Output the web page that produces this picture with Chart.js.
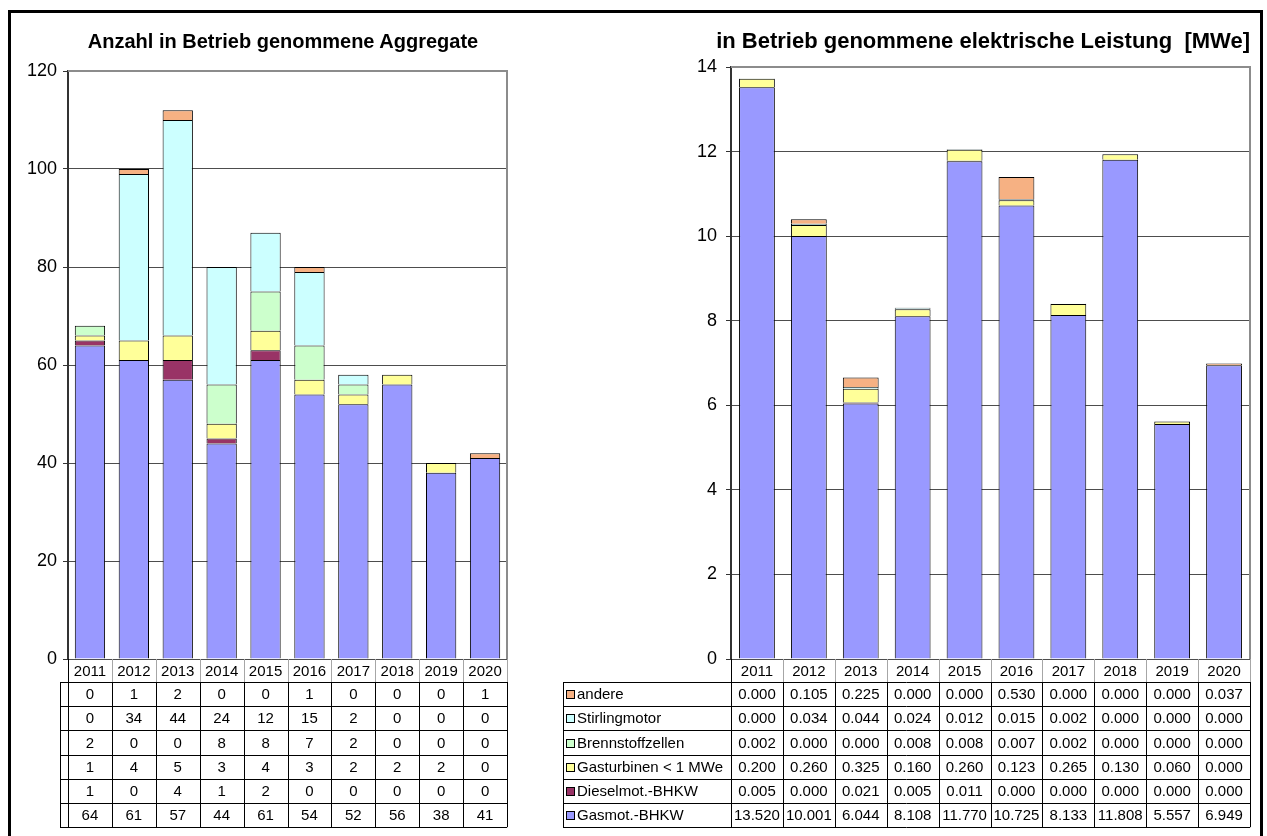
<!DOCTYPE html>
<html>
<head>
<meta charset="utf-8">
<script src="https://cdn.jsdelivr.net/npm/chart.js@4/dist/chart.umd.min.js"></script>
<style>
  body { margin: 0; background: #fff; font-family: Arial, "Liberation Sans", sans-serif; }
  #rahmen { position: absolute; left: 8px; top: 10px; width: 1249px; height: 840px; border: 3px solid #000; }
  .titel { position: absolute; font-weight: bold; white-space: nowrap; color: #000; }
  #titelLinks { left: 283px; top: 31px; font-size: 20px; line-height: 20px; transform: translateX(-50%); }
  #titelRechts { right: 17px; top: 30px; font-size: 22px; line-height: 22px; }
  #anzahlChart { position: absolute; left: 0; top: 0; }
  #leistungChart { position: absolute; left: 560px; top: 0; }
</style>
</head>
<body>
<div id="rahmen"></div>
<canvas id="anzahlChart" width="560" height="836"></canvas>
<canvas id="leistungChart" width="707" height="836"></canvas>
<div class="titel" id="titelLinks">Anzahl in Betrieb genommene Aggregate</div>
<div class="titel" id="titelRechts">in Betrieb genommene elektrische Leistung&nbsp;&nbsp;[MWe]</div>

<script>
// Jahre (Kategorien)
const jahre = ['2011', '2012', '2013', '2014', '2015', '2016', '2017', '2018', '2019', '2020'];

// Anzahl in Betrieb genommene Aggregate
const gasmotAnzahl     = [64, 61, 57, 44, 61, 54, 52, 56, 38, 41];
const dieselAnzahl     = [1, 0, 4, 1, 2, 0, 0, 0, 0, 0];
const gasturbAnzahl    = [1, 4, 5, 3, 4, 3, 2, 2, 2, 0];
const brennstoffAnzahl = [2, 0, 0, 8, 8, 7, 2, 0, 0, 0];
const stirlingAnzahl   = [0, 34, 44, 24, 12, 15, 2, 0, 0, 0];
const andereAnzahl     = [0, 1, 2, 0, 0, 1, 0, 0, 0, 1];

// elektrische Leistung [MWe]
const gasmotLeistung     = [13.520, 10.001, 6.044, 8.108, 11.770, 10.725, 8.133, 11.808, 5.557, 6.949];
const dieselLeistung     = [0.005, 0.000, 0.021, 0.005, 0.011, 0.000, 0.000, 0.000, 0.000, 0.000];
const gasturbLeistung    = [0.200, 0.260, 0.325, 0.160, 0.260, 0.123, 0.265, 0.130, 0.060, 0.000];
const brennstoffLeistung = [0.002, 0.000, 0.000, 0.008, 0.008, 0.007, 0.002, 0.000, 0.000, 0.000];
const stirlingLeistung   = [0.000, 0.034, 0.044, 0.024, 0.012, 0.015, 0.002, 0.000, 0.000, 0.000];
const andereLeistung     = [0.000, 0.105, 0.225, 0.000, 0.000, 0.530, 0.000, 0.000, 0.000, 0.037];

// Serien (von unten nach oben gestapelt)
const serienNamen = ['Gasmot.-BHKW', 'Dieselmot.-BHKW', 'Gasturbinen < 1 MWe', 'Brennstoffzellen', 'Stirlingmotor', 'andere'];
const serienFarben = ['#9999ff', '#993366', '#ffff99', '#ccffcc', '#ccffff', '#f6b183'];

const schrift = 'Arial, "Liberation Sans", sans-serif';

// Datensätze für einen Chart bauen
function baueDatensaetze(reihen) {
    return reihen.map((werte, i) => ({
        label: serienNamen[i],
        data: werte,
        backgroundColor: serienFarben[i],
        borderColor: '#000',
        borderWidth: 1,
        barPercentage: 0.69,
        categoryPercentage: 1
    }));
}

// Plugin: Rahmen der Zeichenfläche + Datentabelle unter dem Diagramm
const tabellenPlugin = {
    id: 'tabelle',
    afterDraw(chart, args, opts) {
        const ctx = chart.ctx;
        const area = chart.chartArea;
        const xScale = chart.scales.x;
        const n = jahre.length;
        const spalte = (area.right - area.left) / n;
        const kopfH = 23;
        const zeileH = 24.2;
        const reihen = chart.data.datasets.slice().reverse();

        ctx.save();

        // grauer Rahmen oben und rechts
        ctx.strokeStyle = '#8c8c8c';
        ctx.lineWidth = 2;
        ctx.beginPath();
        ctx.moveTo(area.left, area.top);
        ctx.lineTo(area.right, area.top);
        ctx.lineTo(area.right, area.bottom);
        ctx.stroke();

        const y0 = area.bottom;
        const y1 = y0 + kopfH;
        const yEnde = y1 + reihen.length * zeileH;
        const px = v => Math.round(v) + 0.5;

        // Kopfzeile mit Jahren
        ctx.lineWidth = 1;
        ctx.strokeStyle = '#a6a6a6';
        ctx.beginPath();
        for (let i = 1; i < n; i++) {
            const xl = px(area.left + i * spalte);
            ctx.moveTo(xl, y0);
            ctx.lineTo(xl, y1);
        }
        ctx.moveTo(px(area.right), y0);
        ctx.lineTo(px(area.right), y1);
        ctx.stroke();

        ctx.fillStyle = '#000';
        ctx.font = '15px ' + schrift;
        ctx.textAlign = 'center';
        ctx.textBaseline = 'middle';
        jahre.forEach((j, i) => ctx.fillText(j, xScale.getPixelForValue(i), (y0 + y1) / 2 + 1));

        // Datenzeilen
        const legX = opts.legendeX;
        ctx.strokeStyle = '#000';
        ctx.beginPath();
        for (let r = 0; r <= reihen.length; r++) {
            const yl = px(y1 + r * zeileH);
            ctx.moveTo(legX, yl);
            ctx.lineTo(area.right, yl);
        }
        ctx.moveTo(px(legX), y1);
        ctx.lineTo(px(legX), yEnde);
        for (let i = 0; i <= n; i++) {
            const xl = px(area.left + i * spalte);
            ctx.moveTo(xl, i === 0 ? y0 : y1);
            ctx.lineTo(xl, yEnde);
        }
        ctx.stroke();

        reihen.forEach((ds, r) => {
            const ym = y1 + (r + 0.5) * zeileH + 1;
            ctx.textAlign = 'center';
            ds.data.forEach((v, i) => {
                ctx.fillText(v.toFixed(opts.nachkomma), xScale.getPixelForValue(i), ym);
            });
            if (opts.mitLegende) {
                const bx = Math.round(legX + 3);
                const by = Math.round(ym - 5);
                ctx.fillStyle = ds.backgroundColor;
                ctx.fillRect(bx, by, 8, 8);
                ctx.strokeRect(bx + 0.5, by + 0.5, 8, 8);
                ctx.fillStyle = '#000';
                ctx.textAlign = 'left';
                ctx.fillText(ds.label, legX + 14, ym);
            }
        });

        ctx.restore();
    }
};

function erstelleChart(id, reihen, maxY, schritt, links, rechts, oben, unten, abstand, tabelle) {
    const canvas = document.getElementById(id);
    return new Chart(canvas.getContext('2d'), {
        type: 'bar',
        data: { labels: jahre, datasets: baueDatensaetze(reihen) },
        options: {
            responsive: false,
            animation: false,
            devicePixelRatio: 1,
            layout: { padding: { left: 0, top: oben, right: canvas.width - rechts, bottom: canvas.height - unten } },
            scales: {
                x: { stacked: true, display: false },
                y: {
                    stacked: true,
                    min: 0,
                    max: maxY,
                    ticks: { stepSize: schritt, color: '#000', padding: abstand, font: { size: 18, family: schrift } },
                    grid: { color: '#4d4d4d', lineWidth: 1, tickLength: 5, tickColor: '#333' },
                    border: { color: '#333', width: 2 },
                    afterFit(scale) { scale.width = links; }
                }
            },
            plugins: {
                legend: { display: false },
                tooltip: { enabled: false },
                title: { display: false },
                tabelle: tabelle
            }
        },
        plugins: [tabellenPlugin]
    });
}

// linkes Diagramm: Anzahl
erstelleChart('anzahlChart',
    [gasmotAnzahl, dieselAnzahl, gasturbAnzahl, brennstoffAnzahl, stirlingAnzahl, andereAnzahl],
    120, 20, 68, 507, 71, 659, 6,
    { legendeX: 60, mitLegende: false, nachkomma: 0 });

// rechtes Diagramm: Leistung
erstelleChart('leistungChart',
    [gasmotLeistung, dieselLeistung, gasturbLeistung, brennstoffLeistung, stirlingLeistung, andereLeistung],
    14, 2, 171, 690, 67, 659, 9,
    { legendeX: 3, mitLegende: true, nachkomma: 3 });
</script>
</body>
</html>
